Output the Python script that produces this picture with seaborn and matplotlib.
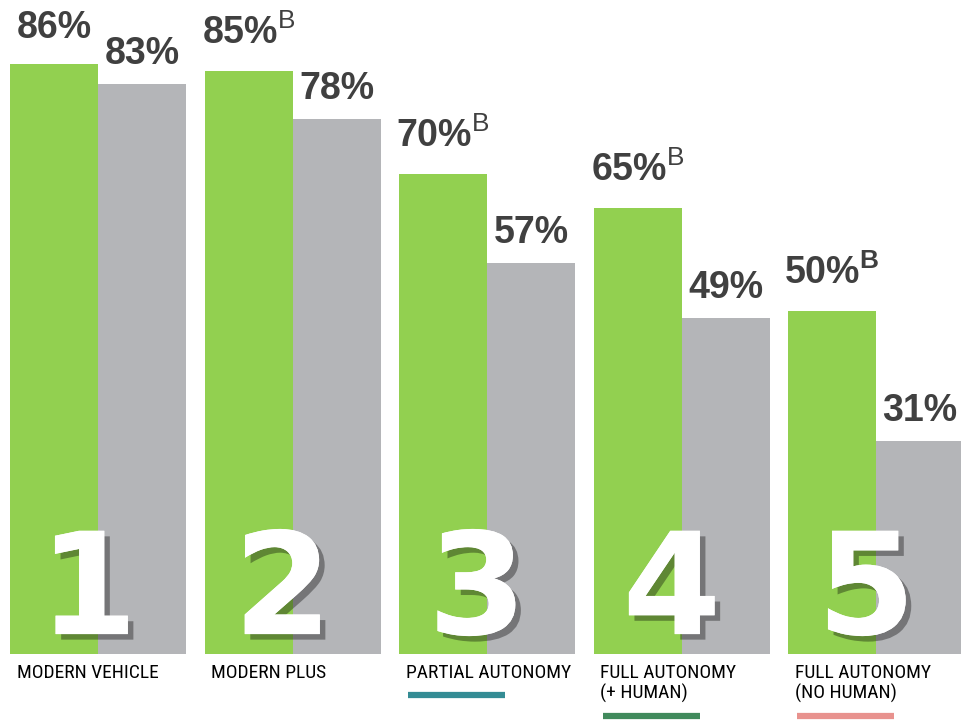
import numpy as np
import pandas as pd
import seaborn as sns
import matplotlib.pyplot as plt
import matplotlib.patheffects as pe
from matplotlib import font_manager
from matplotlib.transforms import blended_transform_factory


levels = ["1", "2", "3", "4", "5"]
categories = ["MODERN VEHICLE", "MODERN PLUS", "PARTIAL AUTONOMY",
              "FULL AUTONOMY\n(+ HUMAN)", "FULL AUTONOMY\n(NO HUMAN)"]
green_vals = [86, 85, 70, 65, 50]
gray_vals = [83, 78, 57, 49, 31]
green_marks = ["", "B", "B", "B", "B"]
series = ["green", "gray"]
underline_colors = [None, None, "#348c94", "#418a5c", "#e8928e"]


def pick_font(names):
    # first family that is really installed
    for n in names:
        try:
            font_manager.findfont(n, fallback_to_default=False)
            return n
        except ValueError:
            pass
    return "DejaVu Sans"


sns.set_theme(style="white")
plt.rcParams['font.family'] = ['Liberation Sans', 'DejaVu Sans']
plt.rcParams['mathtext.fontset'] = 'custom'
plt.rcParams['mathtext.rm'] = 'Liberation Sans'
plt.rcParams['mathtext.bf'] = 'Liberation Sans:bold'

narrow = pick_font(["Liberation Sans Narrow", "Roboto Condensed",
                    "DejaVu Sans Condensed", "Open Sans Condensed"])

df = pd.DataFrame({
    "level": levels * 2,
    "value": green_vals + gray_vals,
    "series": [series[0]] * 5 + [series[1]] * 5,
})

fig = plt.figure(figsize=(9.61, 7.2), dpi=100)
ax = fig.add_axes([0, 0.0917, 1, 0.9083])

sns.barplot(data=df, x="level", y="value", hue="series", order=levels,
            hue_order=series, palette=["#92d050", "#b4b5b8"], width=0.905,
            saturation=1, dodge=True, legend=False, ax=ax, linewidth=0)

ax.set_xlim(-0.504, 4.437)
ax.set_ylim(0, 95.3)
ax.axis("off")

# value labels
bw = 0.905 / 2
for i in range(5):
    gx = i - bw / 2
    sx = i + bw / 2
    lab = f"{green_vals[i]}%"
    if green_marks[i]:
        if i == 4:
            lab += r"$^{\mathbf{" + green_marks[i] + "}}$"
        else:
            lab += r"$^{\mathrm{" + green_marks[i] + "}}$"
    ax.annotate(lab, (gx, green_vals[i]), xytext=(0, 19.5 if green_marks[i] else 18.5),
                textcoords="offset points", ha="center", va="baseline",
                fontsize=27, fontweight="bold", color="#404040")
    ax.annotate(f"{gray_vals[i]}%", (sx, gray_vals[i]), xytext=(0, 14.5),
                textcoords="offset points", ha="center", va="baseline",
                fontsize=27, fontweight="bold", color="#404040")

    # big level number
    ax.text(i - 0.05, 2.9, levels[i], ha="center", va="baseline",
            fontsize=102, fontweight="bold", color="white",
            family=["DejaVu Sans"],
            path_effects=[pe.withSimplePatchShadow(offset=(4, -4),
                                                   shadow_rgbFace="black",
                                                   alpha=0.35),
                          pe.Normal()])

# category labels and underlines
trans = blended_transform_factory(ax.transData, fig.transFigure)
for i, cat in enumerate(categories):
    ax.text(i - bw + 0.035, 0.078, cat, transform=trans, ha="left", va="top",
            fontsize=14, color="black", linespacing=1.1,
            family=[narrow, "Liberation Sans"])
    if underline_colors[i]:
        y = 0.035 if "\n" not in cat else 0.005
        ax.plot([i - 0.405, i + 0.093], [y, y], transform=trans,
                color=underline_colors[i], lw=4.5, solid_capstyle="butt",
                clip_on=False)

fig.savefig("out.png", dpi=100)
